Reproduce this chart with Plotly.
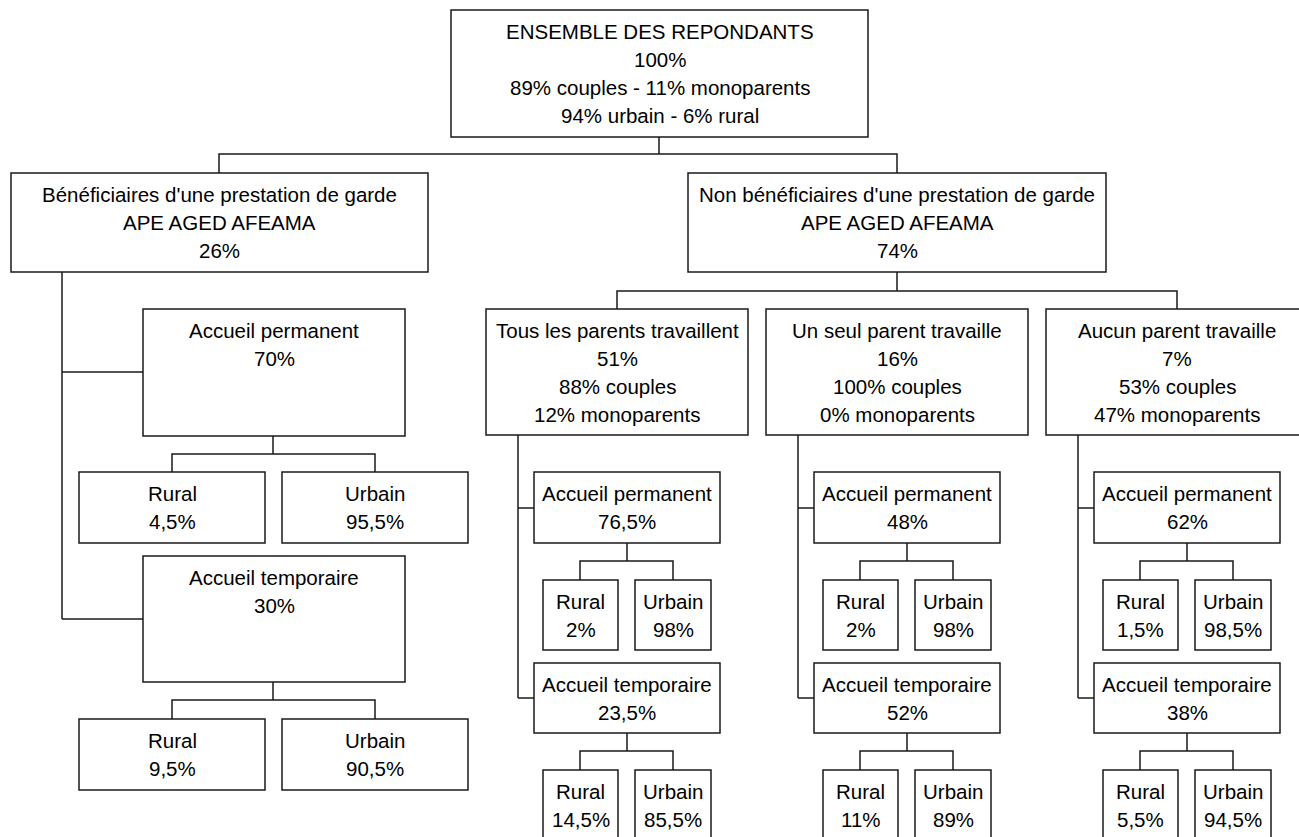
import plotly.graph_objects as go

# Data (percentages as shown in the tree)
root_lines = ["ENSEMBLE DES REPONDANTS", "100%", "89% couples - 11% monoparents", "94% urbain - 6% rural"]
prestation_labels = ["Bénéficiaires d'une prestation de garde", "Non bénéficiaires d'une prestation de garde"]
prestation_sub = "APE AGED AFEAMA"
prestation_share = [26, 74]

# beneficiaires branch
benef_accueil = [70, 30]          # permanent, temporaire
benef_rural = [4.5, 9.5]
benef_urbain = [95.5, 90.5]

# non beneficiaires branch
travail_groups = ["Tous les parents travaillent", "Un seul parent travaille", "Aucun parent travaille"]
travail_share = [51, 16, 7]
travail_couples = [88, 100, 53]
travail_mono = [12, 0, 47]
accueil_perm = [76.5, 48, 62]
accueil_temp = [23.5, 52, 38]
rural_perm = [2, 2, 1.5]
urbain_perm = [98, 98, 98.5]
rural_temp = [14.5, 11, 5.5]
urbain_temp = [85.5, 89, 94.5]

accueil_names = ["Accueil permanent", "Accueil temporaire"]


def pct(v):
    return f"{v:g}".replace(".", ",") + "%"


W, H = 1299, 837
LINE = "#1a1a1a"
FONT = dict(family="Liberation Sans, Arial, sans-serif", size=20.5, color="#000")

shapes = []
annotations = []


def box(x0, x1, y0, y1, lines):
    shapes.append(dict(type="rect", x0=x0, x1=x1, y0=y0, y1=y1,
                       line=dict(color=LINE, width=1.5), xref="x", yref="y"))
    cx = (x0 + x1) / 2
    for i, t in enumerate(lines):
        base = y0 + 28 + 28 * i
        annotations.append(dict(x=cx, y=base - 7, text=t, showarrow=False,
                                xanchor="center", yanchor="middle", font=FONT,
                                xref="x", yref="y"))


def seg(pts):
    path = "M " + " L ".join(f"{x},{y}" for x, y in pts)
    shapes.append(dict(type="path", path=path, line=dict(color=LINE, width=1.5),
                       xref="x", yref="y"))


# root
box(451, 868, 10, 137, root_lines)
seg([(659, 137), (659, 154)])
seg([(219, 173), (219, 154), (897, 154), (897, 173)])

# level 2
box(11, 428, 173, 272, [prestation_labels[0], prestation_sub, pct(prestation_share[0])])
box(688, 1106, 173, 272, [prestation_labels[1], prestation_sub, pct(prestation_share[1])])

# left branch
seg([(62, 272), (62, 619)])
seg([(62, 372), (143, 372)])
seg([(62, 619), (143, 619)])
for k, (top, bot) in enumerate([(309, 436), (556, 682)]):
    box(143, 405, top, bot, [accueil_names[k], pct(benef_accueil[k])])
    seg([(273, bot), (273, bot + 18)])
    seg([(172, top + 163), (172, bot + 18), (375, bot + 18), (375, top + 163)])
    box(79, 265, top + 163, top + 234, ["Rural", pct(benef_rural[k])])
    box(282, 468, top + 163, top + 234, ["Urbain", pct(benef_urbain[k])])

# right branch
seg([(897, 272), (897, 291)])
seg([(617, 309), (617, 291), (1177, 291), (1177, 309)])
for j in range(3):
    d = 280 * j
    box(486 + d, 748 + d, 309, 435,
        [travail_groups[j], pct(travail_share[j]),
         pct(travail_couples[j]) + " couples", pct(travail_mono[j]) + " monoparents"])
    seg([(518 + d, 435), (518 + d, 698)])
    seg([(518 + d, 508), (534 + d, 508)])
    seg([(518 + d, 698), (534 + d, 698)])
    blocks = [(472, 543, accueil_perm[j], rural_perm[j], urbain_perm[j]),
              (663, 733, accueil_temp[j], rural_temp[j], urbain_temp[j])]
    for k, (top, bot, acc, ru, ur) in enumerate(blocks):
        box(534 + d, 720 + d, top, bot, [accueil_names[k], pct(acc)])
        seg([(627 + d, bot), (627 + d, bot + 18)])
        seg([(580 + d, bot + 37), (580 + d, bot + 18), (673 + d, bot + 18), (673 + d, bot + 37)])
        box(543 + d, 618 + d, bot + 37, bot + 107, ["Rural", pct(ru)])
        box(635 + d, 711 + d, bot + 37, bot + 107, ["Urbain", pct(ur)])

fig = go.Figure()
fig.update_layout(
    width=W, height=H,
    margin=dict(l=0, r=0, t=0, b=0),
    paper_bgcolor="white", plot_bgcolor="white",
    xaxis=dict(range=[0, W], visible=False, fixedrange=True),
    yaxis=dict(range=[H, 0], visible=False, fixedrange=True),
    shapes=shapes, annotations=annotations,
    showlegend=False,
)
# remove the default page margin so the figure sits at the window origin
fig.write_html("out.html", config={"displayModeBar": False},
               post_script="document.body.style.margin='0';document.body.style.overflow='hidden';")
